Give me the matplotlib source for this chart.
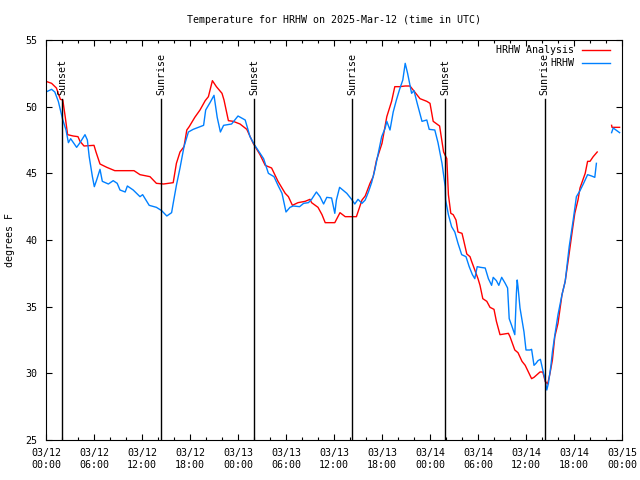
import numpy as np
import matplotlib
matplotlib.use("Agg")
import matplotlib.pyplot as plt

plt.rcParams['font.family'] = ['DejaVu Sans Mono']
plt.rcParams['font.size'] = 7.2

# hours since 03/12 00:00 UTC
red_h = [0, 0.7, 1.3, 1.8, 2.1, 2.4, 2.7, 3.4, 4.0, 4.25, 4.75, 6.0, 6.25, 6.75, 7.6, 8.6,
         10.1, 11.0, 11.75, 13.0, 13.8, 14.7, 15.9, 16.3, 16.75, 17.25, 17.6, 17.9, 18.6,
         19.25, 19.9, 20.3, 20.8, 21.3, 22.0, 22.25, 22.8, 23.4, 24.25, 25.1, 25.9, 26.75,
         27.4, 28.2, 29.0, 29.9, 30.3, 30.8, 31.5, 32.4, 33.0, 33.2, 34.0, 34.5, 34.9, 36.1,
         36.75, 37.4, 38.8, 39.5, 39.9, 40.5, 40.9, 41.3, 42.0, 42.6, 43.2, 43.6, 44.2, 44.9,
         45.5, 46.1, 46.75, 47.6, 48.0, 48.4, 49.2, 49.7, 50.1, 50.3, 50.6, 50.9, 51.25, 51.5,
         52.0, 52.2, 52.6, 53.0, 53.2, 53.6, 54.0, 54.25, 54.6, 55.1, 55.5, 56.0, 56.3, 56.75,
         57.8, 58.0, 58.6, 59.0, 59.5, 59.9, 60.3, 60.7, 61.0, 61.75, 62.1, 62.4, 62.7, 63.0,
         63.3, 63.6, 64.0, 64.5, 64.9, 65.4, 65.8, 66.1, 66.5, 66.75, 67.4, 67.7, 68.0, 68.4,
         68.9, 69.8, 70.7, 70.75, 71.7]
red_t = [51.9, 51.75, 51.4, 50.55, 50.5, 49.25, 47.9, 47.8, 47.75, 47.4, 47.05, 47.1, 46.6,
         45.7, 45.45, 45.2, 45.2, 45.2, 44.9, 44.75, 44.25, 44.2, 44.3, 45.75, 46.6, 47.0,
         48.25, 48.5, 49.2, 49.75, 50.45, 50.75, 51.95, 51.5, 51.0, 50.5, 48.95, 48.9, 48.7,
         48.3, 47.25, 46.4, 45.6, 45.4, 44.4, 43.5, 43.25, 42.6, 42.8, 42.9, 43.05, 42.8,
         42.45, 41.9, 41.3, 41.3, 42.05, 41.75, 41.75, 43.0, 43.3, 44.25, 44.75, 45.95, 47.25,
         49.25, 50.4, 51.5, 51.5, 51.55, 51.55, 51.1, 50.6, 50.4, 50.25, 48.9, 48.55, 46.6,
         46.1, 43.4, 42.0, 41.9, 41.5, 40.6, 40.5, 40.0, 38.95, 38.75, 38.4, 37.75, 37.1, 36.6,
         35.6, 35.4, 34.95, 34.8, 33.9, 32.9, 33.0, 32.75, 31.75, 31.55, 30.9, 30.6, 30.1,
         29.6, 29.7, 30.1, 30.1, 29.4, 29.2, 30.0, 31.0, 32.75, 33.75, 35.9, 36.9, 39.0, 40.75,
         42.0, 43.0, 43.9, 45.0, 45.9, 45.9, 46.25, 46.6, np.nan, 48.6, 48.45, 48.45]

blue_h = [0, 0.7, 1.1, 1.54, 2.08, 2.5, 2.8, 3.08, 3.83, 4.25, 4.875, 5.17, 5.4, 5.8, 6.04,
          6.33, 6.75, 7.04, 7.8, 8.4, 8.9, 9.25, 9.9, 10.17, 10.9, 11.75, 12.08, 12.9, 13.8,
          14.46, 15.1, 15.7, 15.9, 16.3, 16.75, 17.25, 17.8, 18.4, 19.7, 19.96, 20.5, 21.0,
          21.4, 21.8, 22.2, 23.2, 24.0, 24.9, 25.5, 26.1, 27.2, 27.8, 28.5, 29.0, 29.5, 30.0,
          30.5, 30.9, 31.7, 32.2, 32.8, 33.2, 33.8, 34.25, 34.7, 35.1, 35.7, 36.1, 36.3, 36.7,
          37.2, 37.6, 38.2, 38.6, 39.0, 39.5, 39.9, 40.3, 40.7, 41.1, 41.5, 41.96, 42.4, 42.6,
          43.0, 43.4, 43.8, 44.2, 44.6, 44.9, 45.2, 45.5, 45.7, 46.0, 46.4, 47.0, 47.6, 47.9,
          48.6, 49.0, 49.5, 49.9, 49.95, 50.3, 50.7, 51.1, 51.5, 51.96, 52.5, 52.9, 53.3, 53.6,
          53.9, 54.3, 54.9, 55.3, 55.7, 55.9, 56.3, 56.6, 56.96, 57.4, 57.7, 57.9, 58.2, 58.6,
          58.8, 58.9, 59.0, 59.25, 59.75, 60.0, 60.5, 60.7, 61.0, 61.25, 61.5, 61.8, 62.1, 62.4,
          62.6, 62.8, 63.1, 63.3, 63.6, 64.0, 64.5, 64.9, 65.4, 65.9, 66.3, 66.75, 67.2, 67.7,
          68.2, 68.6, 68.8, 69.8, 70.7, 70.9, 71.7]
blue_t = [51.1, 51.3, 51.1, 50.4, 49.05, 48.25, 47.3, 47.6, 46.95, 47.3, 47.9, 47.5, 46.25,
          44.75, 44.0, 44.5, 45.3, 44.4, 44.2, 44.45, 44.25, 43.75, 43.6, 44.05, 43.75, 43.25,
          43.4, 42.6, 42.45, 42.2, 41.8, 42.05, 42.75, 44.1, 45.4, 47.0, 48.1, 48.3, 48.6, 49.75,
          50.3, 50.85, 49.2, 48.1, 48.6, 48.7, 49.3, 49.0, 47.75, 47.1, 46.1, 45.0, 44.75, 44.1,
          43.5, 42.1, 42.45, 42.55, 42.5, 42.75, 42.8, 43.05, 43.6, 43.25, 42.7, 43.2, 43.15,
          42.0, 43.0, 43.95, 43.7, 43.5, 43.05, 42.7, 43.05, 42.75, 43.0, 43.6, 44.3, 45.25,
          46.4, 47.75, 48.4, 48.9, 48.25, 49.6, 50.5, 51.3, 52.0, 53.25, 52.5, 51.6, 51.0, 51.2,
          50.25, 48.9, 49.0, 48.3, 48.25, 47.3, 45.75, 44.0, 43.0, 41.9, 41.0, 40.6, 39.75,
          38.9, 38.75, 38.0, 37.4, 37.1, 38.0, 37.95, 37.9, 37.1, 36.6, 37.2, 36.95, 36.6, 37.2,
          36.75, 36.4, 34.1, 33.6, 32.9, 36.0, 37.0, 36.5, 34.9, 33.1, 31.75, 31.75, 31.8, 30.6,
          30.75, 30.95, 31.05, 30.25, 29.5, 28.75, 29.25, 30.5, 31.6, 32.85, 34.4, 35.9, 36.9,
          39.5, 41.5, 43.25, 43.7, 44.25, 44.9, 44.8, 44.7, 45.75, np.nan, 48.05, 48.4, 48.05]

sun_h = [2.04, 14.41, 26.04, 38.29, 49.91, 62.34]
sun_labels = ['Sunset', 'Sunrise', 'Sunset', 'Sunrise', 'Sunset', 'Sunrise']

tick_h = [0, 6, 12, 18, 24, 30, 36, 42, 48, 54, 60, 66, 72]
tick_labels = ['03/12\n00:00', '03/12\n06:00', '03/12\n12:00', '03/12\n18:00',
               '03/13\n00:00', '03/13\n06:00', '03/13\n12:00', '03/13\n18:00',
               '03/14\n00:00', '03/14\n06:00', '03/14\n12:00', '03/14\n18:00',
               '03/15\n00:00']

fig = plt.figure(figsize=(6.4, 4.8), dpi=100)
ax = fig.add_axes([46/640, 40/480, 576/640, 400/480])

ax.plot(red_h, red_t, color='#ff0000', lw=1.0, label='HRHW Analysis')
ax.plot(blue_h, blue_t, color='#0080ff', lw=1.0, label='HRHW')

# sunrise / sunset markers
for h, lab in zip(sun_h, sun_labels):
    ax.axvline(h, ymin=0, ymax=0.8525, color='black', lw=1.0)
    ax.text(h, 50.9, lab, rotation=90, ha='center', va='bottom')

ax.set_xlim(0, 72)
ax.set_ylim(25, 55)
ax.set_xticks(tick_h)
ax.set_xticklabels(tick_labels)
ax.set_xticks(np.arange(0, 73, 2), minor=True)
ax.set_yticks(np.arange(25, 56, 5))
ax.tick_params(which='both', direction='in', top=True, right=True)
ax.tick_params(which='major', length=4.5, width=0.8, pad=6)
ax.tick_params(which='minor', length=2.5, width=0.8)
for s in ax.spines.values():
    s.set_linewidth(0.8)

ax.set_ylabel('degrees F', labelpad=8)
ax.set_title('Temperature for HRHW on 2025-Mar-12 (time in UTC)', fontsize=7.2, pad=12)

leg = ax.legend(loc='upper right', frameon=False, markerfirst=False,
                handlelength=2.8, handletextpad=0.8, labelspacing=0.35,
                borderaxespad=0.3, bbox_to_anchor=(0.992, 1.005))
for t in leg.get_texts():
    t.set_ha('right')

fig.savefig('out.png', dpi=100)
